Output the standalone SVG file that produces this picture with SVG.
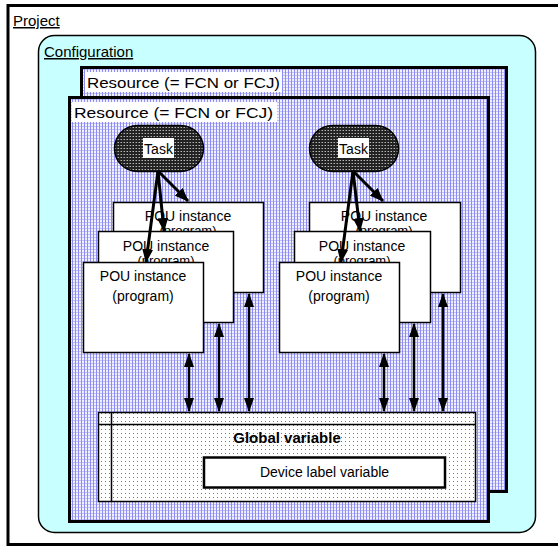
<svg xmlns="http://www.w3.org/2000/svg" width="558" height="547" viewBox="0 0 558 547">
<defs>
<pattern id="blue" width="3" height="3" patternUnits="userSpaceOnUse">
<rect width="3" height="3" fill="#f0f0ff"/>
<rect x="0" y="0" width="1" height="3" fill="#8c8cf4"/>
<rect x="1" y="0" width="2" height="1" fill="#c0c0fa"/>
</pattern>
<pattern id="dark" width="3" height="3" patternUnits="userSpaceOnUse">
<rect width="3" height="3" fill="#222"/>
<rect x="1" y="1" width="1" height="1" fill="#b8b8b8"/>
<rect x="0" y="1" width="1" height="1" fill="#666"/>
</pattern>
<pattern id="dots" width="4" height="4" patternUnits="userSpaceOnUse">
<rect width="4" height="4" fill="#ffffff"/>
<rect x="1" y="1" width="1" height="1" fill="#777"/>
</pattern>
<marker id="ah" viewBox="0 0 14 11" refX="13" refY="5.5" markerWidth="14" markerHeight="11" markerUnits="userSpaceOnUse" orient="auto-start-reverse">
<path d="M0,0 L14,5.5 L0,11 Z" fill="#000"/>
</marker>
<marker id="ah2" viewBox="0 0 14 10" refX="13" refY="5" markerWidth="14" markerHeight="10" markerUnits="userSpaceOnUse" orient="auto-start-reverse">
<path d="M0,0 L14,5 L0,10 Z" fill="#000"/>
</marker>
</defs>
<style>
text{font-family:"Liberation Sans",Arial,sans-serif;fill:#000}
.lbl{font-size:15px}
.pou{font-size:14px;text-anchor:middle}
.hid{font-size:13px;text-anchor:middle}
.box{fill:#fff;stroke:#000;stroke-width:1.5}
.res{fill:url(#blue);stroke:#000;stroke-width:3}
.arr{stroke:#000;stroke-width:3;fill:none;marker-end:url(#ah)}
.dbl{stroke:#000;stroke-width:2.5;fill:none;marker-start:url(#ah2);marker-end:url(#ah2)}
</style>
<rect width="558" height="547" fill="#fff"/>
<g id="project">
<rect x="8" y="5.5" width="560" height="539" fill="#fff" stroke="#000" stroke-width="3"/>
<text x="13" y="26" class="lbl" text-decoration="underline">Project</text>
</g>
<g id="configuration">
<rect x="38.5" y="35.5" width="497" height="497" rx="16" fill="#c8ffff" stroke="#000" stroke-width="1.5"/>
<text x="44" y="57" class="lbl" text-decoration="underline">Configuration</text>
</g>
<g id="resource-back">
<rect x="81.5" y="67.5" width="425" height="424" class="res"/>
<rect x="85" y="72" width="197" height="20" fill="#fff"/>
<text x="87" y="88" class="lbl" textLength="193" lengthAdjust="spacingAndGlyphs">Resource (= FCN or FCJ)</text>
</g>
<g id="resource-front">
<rect x="69.5" y="97.5" width="419" height="424" class="res"/>
<rect x="72" y="102" width="205" height="20" fill="#fff"/>
<text x="74" y="118" class="lbl" textLength="199" lengthAdjust="spacingAndGlyphs">Resource (= FCN or FCJ)</text>
</g>
<g id="task-left">
<rect x="114.5" y="125.5" width="89" height="46" rx="23" fill="url(#dark)" stroke="#000" stroke-width="1.5"/>
<rect x="143" y="138" width="31" height="20" fill="#fff"/>
<text x="158.5" y="154" font-size="14" text-anchor="middle">Task</text>
</g>
<g id="task-right">
<rect x="309.5" y="125.5" width="89" height="46" rx="23" fill="url(#dark)" stroke="#000" stroke-width="1.5"/>
<rect x="338" y="138" width="31" height="20" fill="#fff"/>
<text x="353.5" y="154" font-size="14" text-anchor="middle">Task</text>
</g>
<g id="pou-left-3">
<rect x="113.5" y="202.5" width="150" height="90" class="box"/>
<text x="188" y="221" class="pou">POU instance</text>
<text x="188" y="235" class="hid">(program)</text>
</g>
<g id="pou-left-2">
<rect x="98.5" y="231.5" width="135" height="91" class="box"/>
<text x="166" y="251" class="pou">POU instance</text>
<text x="166" y="265" class="hid">(program)</text>
</g>
<g id="pou-left-1">
<rect x="83.5" y="262.5" width="120" height="90" class="box"/>
<text x="143" y="281" class="pou">POU instance</text>
<text x="143" y="301" class="pou">(program)</text>
</g>
<g id="pou-right-3">
<rect x="309.5" y="202.5" width="151" height="90" class="box"/>
<text x="384" y="221" class="pou">POU instance</text>
<text x="384" y="235" class="hid">(program)</text>
</g>
<g id="pou-right-2">
<rect x="294.5" y="231.5" width="136" height="91" class="box"/>
<text x="362" y="251" class="pou">POU instance</text>
<text x="362" y="265" class="hid">(program)</text>
</g>
<g id="pou-right-1">
<rect x="279.5" y="262.5" width="120" height="90" class="box"/>
<text x="339" y="281" class="pou">POU instance</text>
<text x="339" y="301" class="pou">(program)</text>
</g>
<g id="global-variable">
<rect x="98.5" y="412.5" width="377" height="89" fill="url(#dots)" stroke="#000" stroke-width="1.5"/>
<line x1="98.5" y1="424.5" x2="475.5" y2="424.5" stroke="#000" stroke-width="1.5"/>
<line x1="111.5" y1="412.5" x2="111.5" y2="501.5" stroke="#000" stroke-width="1.5"/>
<text x="287" y="443" font-size="15" font-weight="bold" text-anchor="middle">Global variable</text>
</g>
<g id="device-label-variable">
<rect x="204" y="457.5" width="241" height="30" fill="#fff" stroke="#000" stroke-width="2.5"/>
<text x="324.5" y="477" font-size="14" text-anchor="middle">Device label variable</text>
</g>
<g id="connectors">
<line x1="158" y1="171" x2="188" y2="201" class="arr"/>
<line x1="158" y1="171" x2="164" y2="231" class="arr"/>
<line x1="158" y1="171" x2="146" y2="262" class="arr"/>
<line x1="353" y1="171" x2="383" y2="201" class="arr"/>
<line x1="353" y1="171" x2="360" y2="231" class="arr"/>
<line x1="353" y1="171" x2="341" y2="262" class="arr"/>
<line x1="189" y1="354" x2="189" y2="411" class="dbl"/>
<line x1="219" y1="324" x2="219" y2="411" class="dbl"/>
<line x1="249" y1="294" x2="249" y2="411" class="dbl"/>
<line x1="384" y1="354" x2="384" y2="411" class="dbl"/>
<line x1="414" y1="324" x2="414" y2="411" class="dbl"/>
<line x1="443" y1="294" x2="443" y2="411" class="dbl"/>
</g>
</svg>
